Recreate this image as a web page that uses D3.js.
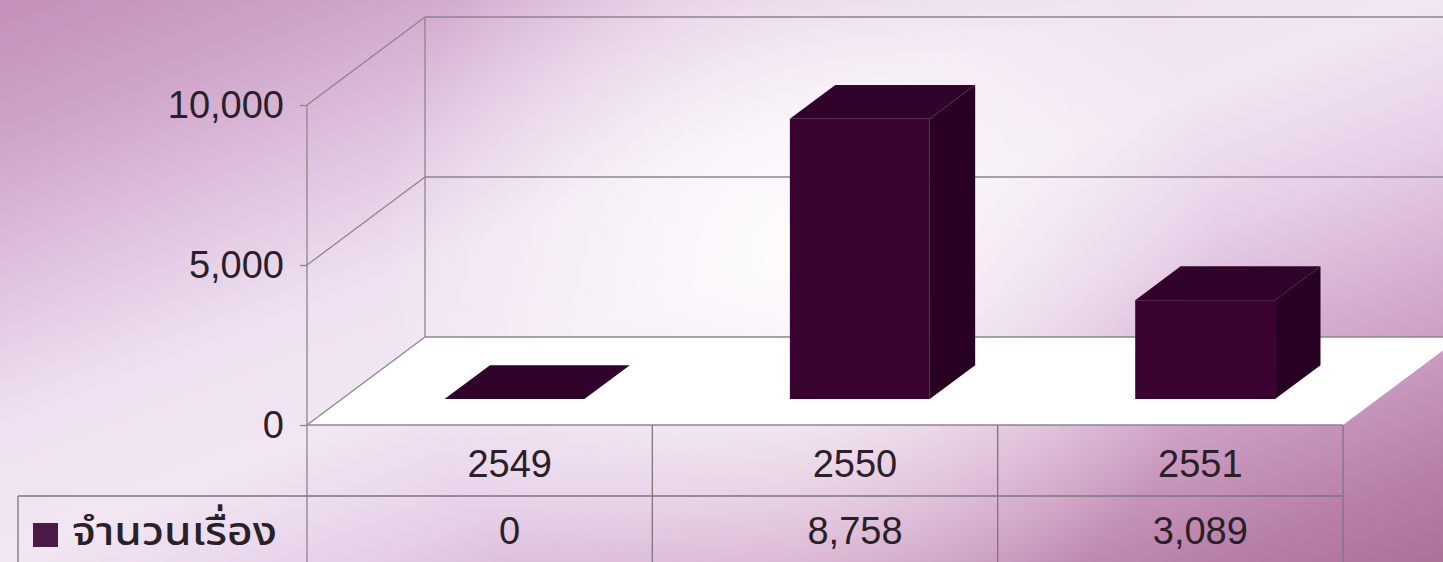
<!DOCTYPE html>
<html><head><meta charset="utf-8">
<script src="https://cdn.jsdelivr.net/npm/d3@7/dist/d3.min.js"></script>
<style>html,body{margin:0;padding:0;overflow:hidden;background:#e8d2e6}</style>
</head><body>
<svg id="c" width="1443" height="562"></svg>
<script>
const categories = ["2549", "2550", "2551"];
const values = [0, 8758, 3089];
const seriesName = "จำนวนเรื่อง";
const yTicks = [0, 5000, 10000];

const W = 1443, H = 562;
const svg = d3.select("#c");
const defs = svg.append("defs");

const bg = defs.append("linearGradient").attr("id","bg").attr("gradientUnits","userSpaceOnUse")
  .attr("x1",0).attr("y1",0).attr("x2",380).attr("y2",976);
[[0,"#c48fb8"],[0.12,"#cea3c8"],[0.25,"#dfc3df"],[0.38,"#efe1f1"],[0.5,"#f2e6f3"],[0.62,"#e6d0e8"],[0.78,"#d0a3c7"],[0.92,"#b77fa7"],[1,"#ab7298"]]
  .forEach(s=>bg.append("stop").attr("offset",s[0]).attr("stop-color",s[1]));
const hl = defs.append("radialGradient").attr("id","hl").attr("gradientUnits","userSpaceOnUse")
  .attr("cx",800).attr("cy",250).attr("r",420);
hl.append("stop").attr("offset",0).attr("stop-color","#ffffff").attr("stop-opacity",0.9);
hl.append("stop").attr("offset",0.5).attr("stop-color","#ffffff").attr("stop-opacity",0.45);
hl.append("stop").attr("offset",1).attr("stop-color","#ffffff").attr("stop-opacity",0);

svg.append("rect").attr("width",W).attr("height",H).attr("fill","url(#bg)");
svg.append("rect").attr("width",W).attr("height",H).attr("fill","url(#hl)");

// scales
const x = d3.scaleBand().domain(categories).range([307, 1343]).padding(0);
const y = d3.scaleLinear().domain([0, 10000]).range([425, 105]);
const DX = 118, DY = -88;               // full depth offset
const off = z => [DX*z, DY*z];
const z0 = 0.295, z1 = 0.68;             // bar depth range
const barFrac = 0.405;

const gridC = "#8c8590";
// floor
const floorPts = [[x.range()[0],y(0)],[x.range()[1],y(0)],[x.range()[1]+DX,y(0)+DY],[x.range()[0]+DX,y(0)+DY]];
svg.append("polygon").attr("points",floorPts.map(p=>p.join(",")).join(" ")).attr("fill","#ffffff");
// gridlines on side wall & back wall
yTicks.forEach(t=>{
  svg.append("line").attr("x1",x.range()[0]).attr("y1",y(t)).attr("x2",x.range()[0]+DX).attr("y2",y(t)+DY)
    .attr("stroke",gridC).attr("stroke-width",1.3);
  svg.append("line").attr("x1",x.range()[0]+DX).attr("y1",y(t)+DY).attr("x2",x.range()[1]+DX).attr("y2",y(t)+DY)
    .attr("stroke",gridC).attr("stroke-width",1.3);
});
svg.append("line").attr("x1",x.range()[0]+DX).attr("y1",y(10000)+DY).attr("x2",x.range()[0]+DX).attr("y2",y(0)+DY)
  .attr("stroke",gridC).attr("stroke-width",1.3);
svg.append("line").attr("x1",x.range()[0]).attr("y1",y(10000)).attr("x2",x.range()[0]).attr("y2",H)
  .attr("stroke",gridC).attr("stroke-width",1.3);

// axis
const axis = d3.axisLeft(y).tickValues(yTicks).tickFormat(d3.format(",")).tickSize(7).tickPadding(16);
const ag = svg.append("g").attr("transform",`translate(${x.range()[0]},0)`).call(axis);
ag.select(".domain").remove();
ag.selectAll(".tick line").attr("stroke",gridC).attr("stroke-width",1.3);
ag.selectAll(".tick text").attr("font-family","Liberation Sans, Arial, sans-serif").attr("font-size",38)
  .attr("fill","#2a2028").attr("dy","0.34em");

// bars
const cFront="#3a0330", cTop="#31022a", cSide="#280122";
const bars = svg.append("g");
categories.forEach((c,i)=>{
  const bw = x.bandwidth()*barFrac;
  const xl = x(c) + x.bandwidth()/2 - bw/2, xr = xl + bw;
  const yb = y(0), yt = y(values[i]);
  const [ax,ay] = off(z0), [bx,by] = off(z1);
  const g = bars.append("g");
  const P = pts => pts.map(p=>p.join(",")).join(" ");
  if (values[i] > 0) {
    g.append("polygon").attr("points",P([[xr+ax,yb+ay],[xr+bx,yb+by],[xr+bx,yt+by],[xr+ax,yt+ay]])).attr("fill",cSide);
    g.append("polygon").attr("points",P([[xl+ax,yt+ay],[xr+ax,yt+ay],[xr+bx,yt+by],[xl+bx,yt+by]])).attr("fill",cTop);
    g.append("rect").attr("x",xl+ax).attr("y",yt+ay).attr("width",bw).attr("height",yb-yt).attr("fill",cFront);
  } else {
    g.append("polygon").attr("points",P([[xl+ax,yt+ay],[xr+ax,yt+ay],[xr+bx,yt+by],[xl+bx,yt+by]])).attr("fill",cTop);
  }
});

// floor front edge
svg.append("line").attr("x1",x.range()[0]).attr("y1",y(0)).attr("x2",x.range()[1]).attr("y2",y(0)).attr("stroke",gridC).attr("stroke-width",1.3);

// data table
const rowTop = y(0), rowMid = 496, rowBot = H;
const tbl = svg.append("g");
const lc = "#7d7580";
tbl.append("line").attr("x1",18).attr("x2",x.range()[1]).attr("y1",rowMid).attr("y2",rowMid).attr("stroke",lc).attr("stroke-width",1.3);
tbl.append("line").attr("x1",18).attr("x2",18).attr("y1",rowMid).attr("y2",rowBot).attr("stroke",lc).attr("stroke-width",1.3);
categories.forEach((c,i)=>{
  tbl.append("line").attr("x1",x(c)+x.bandwidth()).attr("x2",x(c)+x.bandwidth()).attr("y1",rowTop).attr("y2",rowBot)
    .attr("stroke",lc).attr("stroke-width",1.3);
  const cx = x(c)+x.bandwidth()/2 + 30;
  tbl.append("text").attr("x",cx).attr("y",464).attr("dy","0.35em").attr("text-anchor","middle")
    .attr("font-family","Liberation Sans, Arial, sans-serif").attr("font-size",38).attr("fill","#2a2028").text(c);
  tbl.append("text").attr("x",cx).attr("y",531).attr("dy","0.35em").attr("text-anchor","middle")
    .attr("font-family","Liberation Sans, Arial, sans-serif").attr("font-size",38).attr("fill","#2a2028").text(d3.format(",")(values[i]));
});
// legend key
tbl.append("rect").attr("x",33).attr("y",523).attr("width",25).attr("height",24).attr("fill","#4c1a46");
tbl.append("text").attr("x",72).attr("y",545).attr("font-family","Noto Sans Thai, Loma, Garuda, Tlwg Typo, Noto Sans, sans-serif")
  .attr("font-size",40).attr("font-weight",500).attr("textLength",205).attr("lengthAdjust","spacingAndGlyphs")
  .attr("fill","#2a2028").text(seriesName);
</script>
</body></html>
